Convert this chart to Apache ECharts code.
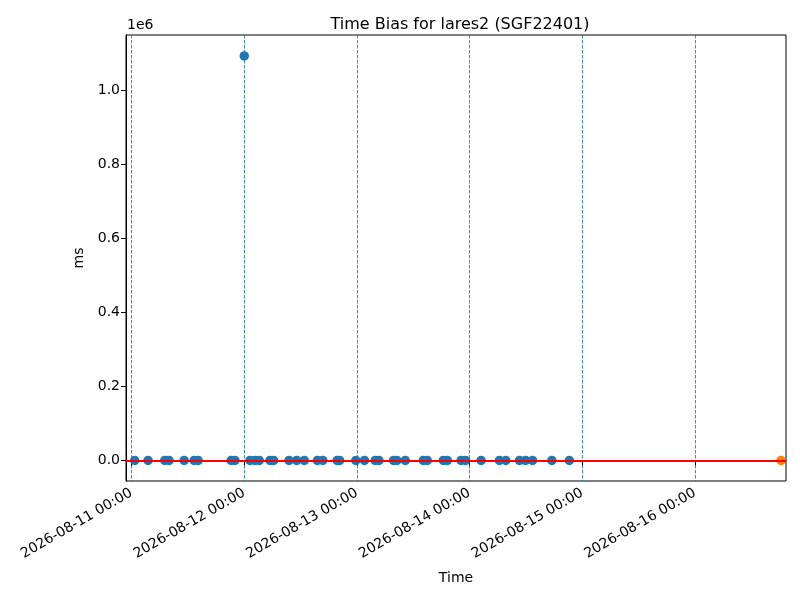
<!DOCTYPE html>
<html lang="en">
<head>
    <meta charset="UTF-8">
    <title>Time Bias</title>
    <script src="https://cdn.jsdelivr.net/npm/echarts@6.0.0/dist/echarts.min.js"></script>
    <style>
        body { margin: 0; background: #fff; }
    </style>
</head>
<body>
    <div id="main" style="width: 800px;height:600px;"></div>
    <script type="text/javascript">
        // observation epochs (local time) and time bias in ms
        const biasTimes = [
            '2026-08-11 00:42', '2026-08-11 03:33', '2026-08-11 07:06', '2026-08-11 08:01',
            '2026-08-11 11:14', '2026-08-11 13:22', '2026-08-11 14:13', '2026-08-11 21:15',
            '2026-08-11 22:03', '2026-08-12 00:02', '2026-08-12 01:15', '2026-08-12 02:19',
            '2026-08-12 03:14', '2026-08-12 05:31', '2026-08-12 06:18', '2026-08-12 09:34',
            '2026-08-12 11:13', '2026-08-12 12:50', '2026-08-12 15:37', '2026-08-12 16:46',
            '2026-08-12 19:49', '2026-08-12 20:21', '2026-08-12 23:48', '2026-08-13 01:38',
            '2026-08-13 03:55', '2026-08-13 04:43', '2026-08-13 07:50', '2026-08-13 08:33',
            '2026-08-13 10:20', '2026-08-13 14:10', '2026-08-13 15:01', '2026-08-13 18:26',
            '2026-08-13 19:17', '2026-08-13 22:13', '2026-08-13 23:11', '2026-08-14 02:29',
            '2026-08-14 06:23', '2026-08-14 07:44', '2026-08-14 10:39', '2026-08-14 11:56',
            '2026-08-14 13:26', '2026-08-14 17:33', '2026-08-14 21:16'
        ];
        const biasValues = [
            0, 0, 0, 0, 0, 0, 0, 0,
            0, 1094000, 0, 0, 0, 0, 0, 0,
            0, 0, 0, 0, 0, 0, 0, 0,
            0, 0, 0, 0, 0, 0, 0, 0,
            0, 0, 0, 0, 0, 0, 0, 0,
            0, 0, 0
        ];
        // latest point (orange)
        const latestTimes = ['2026-08-16 18:21'];
        const latestValues = [0];

        const dayTicks = ['2026-08-11 00:00', '2026-08-12 00:00', '2026-08-13 00:00',
                          '2026-08-14 00:00', '2026-08-15 00:00', '2026-08-16 00:00'];
        const yTicks = [0, 200000, 400000, 600000, 800000, 1000000];

        const xMin = '2026-08-10 22:51';
        const xMax = '2026-08-16 19:25';

        function ts(s) { return +new Date(s.replace(' ', 'T') + ':00'); }
        function pad(n) { return n < 10 ? '0' + n : '' + n; }
        function fmt(v) {
            const d = new Date(v);
            return d.getFullYear() + '-' + pad(d.getMonth() + 1) + '-' + pad(d.getDate()) +
                ' ' + pad(d.getHours()) + ':' + pad(d.getMinutes());
        }

        const dayTs = dayTicks.map(ts);
        const font = 'DejaVu Sans';

        let myChart = echarts.init(document.getElementById('main'));

        let options = {
            animation: false,
            backgroundColor: '#fff',
            textStyle: { fontFamily: font },
            title: {
                text: 'Time Bias for lares2 (SGF22401)',
                left: 455, top: 12, textAlign: 'center',
                textStyle: { fontFamily: font, fontSize: 16, fontWeight: 'normal', color: '#000' }
            },
            graphic: [{
                type: 'text', left: 127, top: 18,
                style: { text: '1e6', fontFamily: font, fontSize: 14, fill: '#000' }
            }],
            grid: {
                left: 126, right: 14, top: 35, bottom: 119,
                show: true, borderColor: '#000', borderWidth: 1, backgroundColor: 'transparent'
            },
            xAxis: {
                type: 'value', scale: true,
                min: ts(xMin), max: ts(xMax),
                name: 'Time', nameLocation: 'middle', nameGap: 90,
                nameTextStyle: { fontFamily: font, fontSize: 14, color: '#000' },
                axisLine: { lineStyle: { color: '#000', width: 1 } },
                axisTick: { show: true, length: 5, lineStyle: { color: '#000' }, customValues: dayTs },
                axisLabel: {
                    customValues: dayTs, rotate: 30, margin: 11,
                    fontFamily: font, fontSize: 14, color: '#000',
                    formatter: (v) => fmt(v)
                },
                // daily guide lines
                splitLine: {
                    show: true,
                    lineStyle: { color: '#1f77b4', width: 1, type: [3.5, 1.5], opacity: 0.85 }
                }
            },
            yAxis: {
                type: 'value',
                min: -55700, max: 1150500,
                name: 'ms', nameLocation: 'middle', nameGap: 38,
                nameTextStyle: { fontFamily: font, fontSize: 14, color: '#000' },
                axisLine: { show: true, lineStyle: { color: '#000', width: 1 } },
                axisTick: { show: true, length: 5, lineStyle: { color: '#000' }, customValues: yTicks },
                axisLabel: {
                    customValues: yTicks, margin: 6,
                    fontFamily: font, fontSize: 14, color: '#000',
                    formatter: (v) => (v / 1e6).toFixed(1)
                },
                splitLine: { show: false }
            },
            series: [
                {
                    name: 'zero', type: 'line', data: [], z: 2,
                    markLine: {
                        silent: true, symbol: 'none', label: { show: false },
                        lineStyle: { color: '#ff0000', width: 2, type: 'solid', opacity: 1 },
                        emphasis: { disabled: true },
                        data: [{ yAxis: 0 }]
                    }
                },
                {
                    name: 'bias', type: 'scatter', z: 3,
                    symbolSize: 9.5,
                    itemStyle: { color: '#1f77b4', opacity: 1 },
                    data: biasTimes.map((t, i) => [ts(t), biasValues[i]])
                },
                {
                    name: 'latest', type: 'scatter', z: 4,
                    symbolSize: 9.5,
                    itemStyle: { color: '#ff7f0e', opacity: 1 },
                    data: latestTimes.map((t, i) => [ts(t), latestValues[i]])
                }
            ]
        };

        myChart.setOption(options);
    </script>
</body>
</html>
